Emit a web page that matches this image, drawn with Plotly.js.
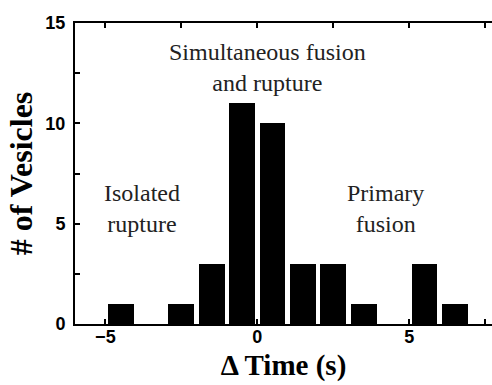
<!DOCTYPE html>
<html>
<head>
<meta charset="utf-8">
<script src="https://cdn.plot.ly/plotly-3.0.1.min.js"></script>
<style>html,body{margin:0;padding:0;background:#fff;}#chart{width:492px;height:385px;}</style>
</head>
<body>
<div id="chart"></div>
<script>
// Bin centres (s) and counts
const binCenters = [-4.5, -2.5, -1.5, -0.5, 0.5, 1.5, 2.5, 3.5, 5.5, 6.5];
const counts     = [1, 1, 3, 11, 10, 3, 3, 1, 3, 1];
const xTickVals  = [-5, 0, 5];
const yTickVals  = [0, 5, 10, 15];
const regionLabels = ["Isolated<br>rupture", "Simultaneous fusion<br>and rupture", "Primary<br>fusion"];
const regionX = [-3.79, 0.32, 4.2];
const regionY = [5.78, 12.78, 5.78];

const serif = "Liberation Serif";
const sans = "Liberation Sans";

const trace = {
  type: "bar",
  x: binCenters,
  y: counts,
  width: 0.85,
  marker: {color: "#000", line: {width: 0}},
  hoverinfo: "skip"
};

const layout = {
  width: 492, height: 385,
  margin: {l: 75, r: 0, t: 23, b: 61},
  paper_bgcolor: "#fff", plot_bgcolor: "#fff",
  showlegend: false,
  bargap: 0,
  xaxis: {
    range: [-6, 7.72],
    tickvals: xTickVals,
    ticks: "inside", ticklen: 5, tickwidth: 2, tickcolor: "#000",
    minor: {dtick: 2.5, tick0: 0, ticks: "inside", ticklen: 5, tickwidth: 2, tickcolor: "#000", showgrid: false},
    showline: true, linewidth: 2, linecolor: "#000", mirror: "allticks",
    showgrid: false, zeroline: false,
    tickfont: {family: sans, size: 18, color: "#000", weight: "bold"},
    ticklabelstandoff: -5,
    title: {text: "\u0394 Time (s)", font: {family: serif, size: 29, color: "#000", weight: "bold"}, standoff: 9}
  },
  yaxis: {
    range: [0, 15],
    tickvals: yTickVals,
    ticks: "inside", ticklen: 5, tickwidth: 2, tickcolor: "#000",
    minor: {dtick: 2.5, tick0: 0, ticks: "inside", ticklen: 5, tickwidth: 2, tickcolor: "#000", showgrid: false},
    showline: true, linewidth: 2, linecolor: "#000", mirror: false,
    showgrid: false, zeroline: false,
    tickfont: {family: sans, size: 18, color: "#000", weight: "bold"},
    ticklabelstandoff: 4,
    title: {text: "# of Vesicles", font: {family: serif, size: 32, color: "#000", weight: "bold"}, standoff: 3}
  },
  annotations: regionLabels.map((t, i) => ({
    text: t, x: regionX[i], y: regionY[i], xref: "x", yref: "y",
    showarrow: false, align: "center",
    font: {family: serif, size: 24, color: "#222"}
  }))
};

Plotly.newPlot("chart", [trace], layout, {staticPlot: true, displayModeBar: false});
</script>
</body>
</html>
